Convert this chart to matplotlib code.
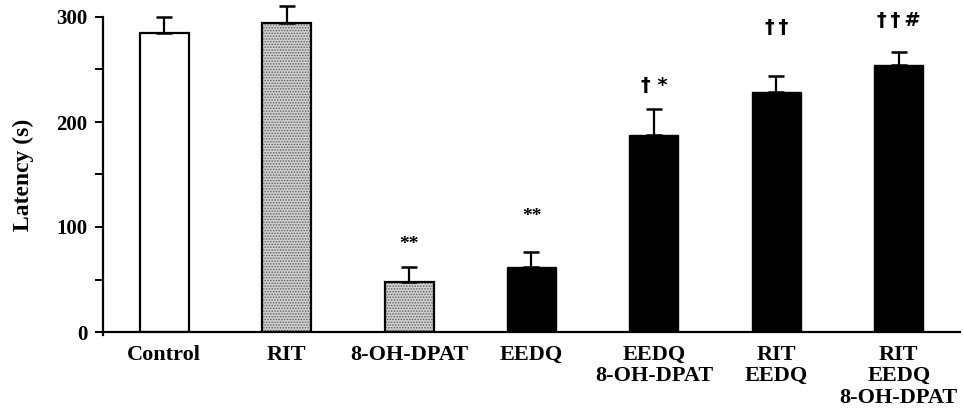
import matplotlib
matplotlib.use("Agg")
import matplotlib.pyplot as plt

categories = ["Control", "RIT", "8-OH-DPAT", "EEDQ", "EEDQ\n8-OH-DPAT", "RIT\nEEDQ", "RIT\nEEDQ\n8-OH-DPAT"]
means = [285, 294, 48, 62, 188, 229, 254]
sems = [15, 16, 14, 14, 24, 15, 13]
marks = ["**", "**", "\u2020 *", "\u2020\u2009\u2020", "\u2020\u2009\u2020\u2009#"]
mark_bars = [2, 3, 4, 5, 6]
fill_kind = ["white", "dots", "dots", "black", "black", "black", "black"]

# style: vertical offset (pixels) of each annotation above error bar
mark_offsets = [22, 36, 24, 48, 31]

plt.rcParams['font.family'] = ['Liberation Serif', 'DejaVu Serif']
plt.rcParams['font.weight'] = 'bold'
plt.rcParams['hatch.linewidth'] = 0.7

fig = plt.figure(figsize=(9.64, 4.15), dpi=100)
ax = fig.add_axes([103/964, 83/415, (960-103)/964, (332-17)/415])

x = list(range(len(categories)))
width = 0.4

for xi, m, k in zip(x, means, fill_kind):
    if k == "white":
        ax.bar(xi, m, width, color="white", edgecolor="black", linewidth=1.6, zorder=2)
    elif k == "dots":
        ax.bar(xi, m, width, color="#d0d0d0", edgecolor="#5a5a5a", hatch="......", linewidth=0, zorder=2)
        ax.bar(xi, m, width, fill=False, edgecolor="black", linewidth=1.6, zorder=3)
    else:
        ax.bar(xi, m, width, color="black", edgecolor="black", linewidth=1.0, zorder=2)

ax.errorbar(x, means, yerr=[[0]*len(means), sems], fmt="none", ecolor="black",
            elinewidth=1.6, capsize=5.5, capthick=1.8, zorder=4, clip_on=False)

for bi, t, off in zip(mark_bars, marks, mark_offsets):
    top = means[bi] + sems[bi]
    ax.annotate(t, xy=(bi, top), xytext=(0, off * 0.72), textcoords="offset points",
                ha="center", va="center", fontsize=14, fontweight="bold",
                family=['DejaVu Sans'] if "\u2020" in t else ['Liberation Serif'],
                annotation_clip=False)

ax.set_xlim(-0.5, 6.5)
ax.set_ylim(0, 300)
ax.set_yticks([0, 100, 200, 300])
ax.set_yticks([50, 150, 250], minor=True)
ax.tick_params(axis="y", which="both", direction="out", length=6, width=1.4, labelsize=15, pad=5)
ax.set_xticks(x)
ax.set_xticklabels(categories, fontsize=16, fontweight="bold", linespacing=1.12)
ax.tick_params(axis="x", length=0, pad=9)
for lab in ax.get_yticklabels():
    lab.set_fontweight("bold")
ax.set_ylabel("Latency (s)", fontsize=17, fontweight="bold", labelpad=16)
ax.spines["top"].set_visible(False)
ax.spines["right"].set_visible(False)
ax.spines["left"].set_linewidth(1.6)
ax.spines["bottom"].set_linewidth(1.6)
ax.spines["left"].set_bounds(-3, 300)

fig.savefig("out.png", dpi=100)
